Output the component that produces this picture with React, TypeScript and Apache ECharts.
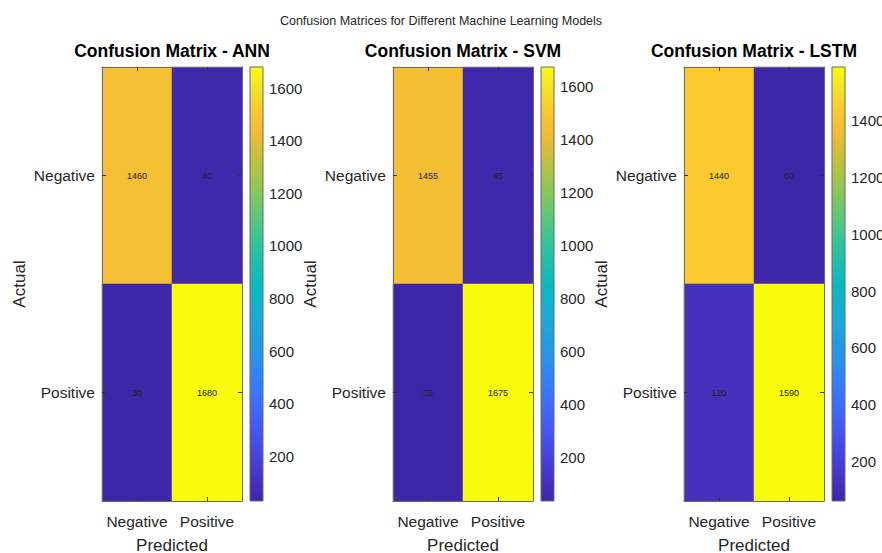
import React, { useEffect, useRef } from "react";
import * as echarts from "echarts";

const categories = ["Negative", "Positive"];
const modelNames = ["ANN", "SVM", "LSTM"];
// rows = actual, cols = predicted
const annMatrix = [
  [1460, 40],
  [30, 1680],
];
const svmMatrix = [
  [1455, 45],
  [35, 1675],
];
const lstmMatrix = [
  [1440, 60],
  [120, 1590],
];
const annTicks = [200, 400, 600, 800, 1000, 1200, 1400, 1600];
const svmTicks = [200, 400, 600, 800, 1000, 1200, 1400, 1600];
const lstmTicks = [200, 400, 600, 800, 1000, 1200, 1400];

const PARULA = [
  "#3E26A8", "#4433C2", "#4741DC", "#4752EE", "#4264F7", "#3B76F9", "#2F88F0",
  "#2598E5", "#1EA5DA", "#14B0CD", "#0EB8BE", "#1FBEAB", "#36C398", "#5AC67C",
  "#80C660", "#A8C44A", "#CFBD3D", "#F2BB37", "#FAC92E", "#F4E22A", "#F9FB0E",
];

const FONT = "'Liberation Sans', Arial, Helvetica, sans-serif";
const TXT = "#262626";
const AXC = "#6b6b6b";

export default function App() {
  const ref = useRef<HTMLDivElement>(null);
  useEffect(() => {
    if (!ref.current) return;
    const chart = echarts.init(ref.current, null, { renderer: "svg" });
    const matrices = [annMatrix, svmMatrix, lstmMatrix];
    const tickSets = [annTicks, svmTicks, lstmTicks];
    const lefts = [102, 393, 684];
    const top = 67;
    const mw = 140;
    const mh = 434;

    const grids: any[] = [];
    const xAxes: any[] = [];
    const yAxes: any[] = [];
    const heatSeries: any[] = [];
    const cbSeries: any[] = [];
    const visualMaps: any[] = [];
    const titles: any[] = [
      {
        text: "Confusion Matrices for Different Machine Learning Models",
        left: 441,
        top: 14,
        textAlign: "center",
        padding: 0,
        textStyle: { fontSize: 12.5, fontWeight: "normal", color: TXT, fontFamily: FONT },
      },
    ];

    const gradStops = PARULA.map((c, i) => ({ offset: i / (PARULA.length - 1), color: c }));

    matrices.forEach((m, i) => {
      const flat = m.flat();
      const lo = Math.min(...flat);
      const hi = Math.max(...flat);
      const L = lefts[i];
      grids.push({ left: L, top, width: mw, height: mh, outerBoundsMode: "none", containLabel: false });
      grids.push({ left: L + 148, top, width: 13, height: mh, outerBoundsMode: "none", containLabel: false });
      const gM = 2 * i;
      const gC = 2 * i + 1;

      titles.push({
        text: `Confusion Matrix - ${modelNames[i]}`,
        left: L + mw / 2,
        top: 42,
        textAlign: "center",
        padding: 0,
        textStyle: { fontSize: 17.5, fontWeight: "bold", color: "#000", fontFamily: FONT },
      });

      const tickStyle = { show: true, inside: true, alignWithLabel: true, length: 4, lineStyle: { color: "#333", width: 1 } };
      xAxes.push({
        type: "category",
        gridIndex: gM,
        data: categories,
        position: "bottom",
        z: 10,
        axisLine: { show: true, lineStyle: { color: AXC, width: 1 } },
        axisTick: tickStyle,
        axisLabel: { fontSize: 15.5, color: TXT, margin: 12, fontFamily: FONT, interval: 0, hideOverlap: false },
        splitLine: { show: false },
        name: "Predicted",
        nameLocation: "middle",
        nameGap: 36,
        nameTextStyle: { fontSize: 17, color: TXT, fontFamily: FONT },
      });
      xAxes.push({
        type: "category",
        gridIndex: gM,
        data: categories,
        position: "top",
        z: 10,
        axisLine: { show: true, lineStyle: { color: AXC, width: 1 } },
        axisTick: tickStyle,
        axisLabel: { show: false },
        splitLine: { show: false },
      });
      xAxes.push({ type: "value", gridIndex: gC, min: 0, max: 1, show: false });

      yAxes.push({
        type: "category",
        gridIndex: gM,
        data: categories,
        inverse: true,
        position: "left",
        z: 10,
        axisLine: { show: true, lineStyle: { color: AXC, width: 1 } },
        axisTick: tickStyle,
        axisLabel: { fontSize: 15.5, color: TXT, margin: 7, fontFamily: FONT, interval: 0 },
        splitLine: { show: false },
        name: "Actual",
        nameLocation: "middle",
        nameRotate: 90,
        nameGap: 74,
        nameTextStyle: { fontSize: 17, color: TXT, fontFamily: FONT },
      });
      yAxes.push({
        type: "category",
        gridIndex: gM,
        data: categories,
        inverse: true,
        position: "right",
        z: 10,
        axisLine: { show: true, lineStyle: { color: AXC, width: 1 } },
        axisTick: tickStyle,
        axisLabel: { show: false },
        splitLine: { show: false },
      });
      yAxes.push({
        type: "value",
        gridIndex: gC,
        min: lo,
        max: hi,
        position: "right",
        axisLine: { show: false },
        axisTick: { show: true, inside: false, length: 3, customValues: tickSets[i], lineStyle: { color: "#333" } },
        axisLabel: {
          fontSize: 15,
          color: TXT,
          margin: 6,
          fontFamily: FONT,
          customValues: tickSets[i],
          formatter: (v: number) => String(v),
        },
        splitLine: { show: false },
      });

      const data: number[][] = [];
      m.forEach((row, a) => row.forEach((v, p) => data.push([p, a, v])));
      heatSeries.push({
        type: "heatmap",
        xAxisIndex: 3 * i,
        yAxisIndex: 3 * i,
        data,
        label: { show: true, fontSize: 9, color: "#222", fontFamily: FONT },
        emphasis: { disabled: true },
      });
      visualMaps.push({
        type: "continuous",
        show: false,
        seriesIndex: i,
        dimension: 2,
        min: lo,
        max: hi,
        inRange: { color: PARULA },
      });
      cbSeries.push({
        type: "custom",
        xAxisIndex: 3 * i + 2,
        yAxisIndex: 3 * i + 2,
        data: [[0, lo, hi]],
        encode: { x: 0, y: [1, 2] },
        silent: true,
        renderItem: (_p: any, api: any) => {
          const a = api.coord([0, api.value(2)]);
          const b = api.coord([1, api.value(1)]);
          return {
            type: "rect",
            shape: { x: a[0], y: a[1], width: b[0] - a[0], height: b[1] - a[1] },
            style: {
              fill: new echarts.graphic.LinearGradient(0, 1, 0, 0, gradStops),
              stroke: AXC,
              lineWidth: 1,
            },
          };
        },
      });
    });

    chart.setOption({
      animation: false,
      backgroundColor: "#ffffff",
      textStyle: { fontFamily: FONT },
      title: titles,
      grid: grids,
      xAxis: xAxes,
      yAxis: yAxes,
      visualMap: visualMaps,
      series: [...heatSeries, ...cbSeries],
    });
    return () => chart.dispose();
  }, []);
  return (
    <div
      ref={ref}
      style={{ position: "fixed", left: 0, top: 0, width: 882, height: 553, background: "#fff" }}
    />
  );
}
